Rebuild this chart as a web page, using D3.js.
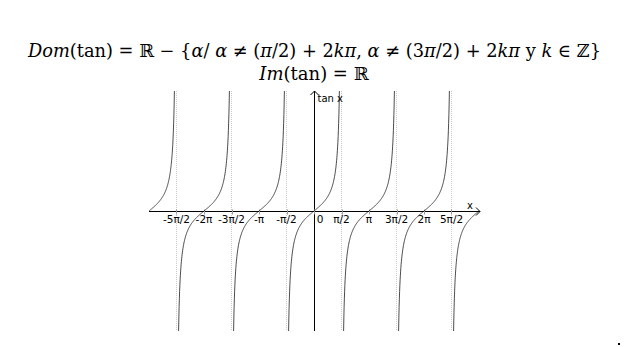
<!DOCTYPE html>
<html>
<head>
<meta charset="utf-8">
<script src="https://cdn.jsdelivr.net/npm/d3@7"></script>
<style>
  body { margin: 0; background: #fff; }
  svg { display: block; }
</style>
</head>
<body>
<div id="chart"></div>
<script>
const PI = Math.PI;

// tick positions (multiples of pi/2) and their labels
const tickValues = [-5, -4, -3, -2, -1, 0, 1, 2, 3, 4, 5].map(k => k * PI / 2);
const tickLabels = ["-5π/2", "-2π", "-3π/2", "-π", "-π/2", "0", "π/2", "π", "3π/2", "2π", "5π/2"];
// vertical asymptotes drawn as dotted lines
const asymptotes = [-5, -3, -1, 1, 3, 5].map(k => k * PI / 2);
// branch centres (zeros of tan)
const zeros = [-3, -2, -1, 0, 1, 2, 3].map(k => k * PI);

const xDomain = [-3 * PI, 3 * PI];
const yDomain = [-8.3, 8.3];

const width = 624, height = 347;

const svg = d3.select("#chart").append("svg")
    .attr("width", width)
    .attr("height", height);

const x = d3.scaleLinear().domain(xDomain).range([149, 479]);
const y = d3.scaleLinear().domain(yDomain).range([331, 91]);

// title
const title = svg.append("g")
    .attr("font-family", "'DejaVu Serif', serif")
    .attr("font-size", 18)
    .attr("fill", "#000");

const line1 = [
    ["Dom", true], ["(tan) = ℝ − {", false], ["α", true], ["/ ", false], ["α", true],
    [" ≠ (", false], ["π", true], ["/2) + 2", false], ["kπ", true], [", ", false], ["α", true],
    [" ≠ (3", false], ["π", true], ["/2) + 2", false], ["kπ", true], [" y ", false], ["k", true],
    [" ∈ ℤ}", false]
];
const t1 = title.append("text")
    .attr("x", 314.5).attr("y", 57)
    .attr("text-anchor", "middle")
    .attr("textLength", 573)
    .attr("lengthAdjust", "spacingAndGlyphs");
line1.forEach(([s, it]) => t1.append("tspan").attr("font-style", it ? "italic" : "normal").text(s));

const t2 = title.append("text")
    .attr("x", 314).attr("y", 80)
    .attr("text-anchor", "middle");
[["Im", true], ["(tan) = ℝ", false]].forEach(([s, it]) =>
    t2.append("tspan").attr("font-style", it ? "italic" : "normal").text(s));

// asymptotes
svg.append("g")
    .selectAll("line")
    .data(asymptotes)
    .enter().append("line")
    .attr("x1", d => x(d)).attr("x2", d => x(d))
    .attr("y1", y(yDomain[1])).attr("y2", y(yDomain[0]))
    .attr("stroke", "#c8c8c8")
    .attr("stroke-width", 1)
    .attr("stroke-dasharray", "1,1");

// axes
const axes = svg.append("g").attr("stroke", "#000").attr("stroke-width", 1).attr("fill", "none");
const x0 = Math.round(x(0)) + 0.5, y0 = Math.round(y(0)) + 0.5;
axes.append("line").attr("x1", x(xDomain[0])).attr("x2", x(xDomain[1]) + 1).attr("y1", y0).attr("y2", y0);
axes.append("path").attr("d", `M${x(xDomain[1]) - 3},${y0 - 4}L${x(xDomain[1]) + 1},${y0}L${x(xDomain[1]) - 3},${y0 + 4}`);
axes.append("line").attr("x1", x0).attr("x2", x0).attr("y1", y(yDomain[0])).attr("y2", y(yDomain[1]));
axes.append("path").attr("d", `M${x0 - 4},${y(yDomain[1]) + 4}L${x0},${y(yDomain[1])}L${x0 + 4},${y(yDomain[1]) + 4}`);

// tick marks
svg.append("g")
    .selectAll("line")
    .data(tickValues)
    .enter().append("line")
    .attr("x1", d => Math.round(x(d)) + 0.5).attr("x2", d => Math.round(x(d)) + 0.5)
    .attr("y1", y0 - 2).attr("y2", y0 + 3)
    .attr("stroke", "#999");

// tick labels
svg.append("g")
    .attr("font-family", "'DejaVu Sans', sans-serif")
    .attr("font-size", 10.5)
    .selectAll("text")
    .data(tickValues)
    .enter().append("text")
    .attr("x", (d, i) => x(d) + (i === 5 ? 6 : 0))
    .attr("y", y0 + 11)
    .attr("text-anchor", "middle")
    .text((d, i) => tickLabels[i]);

// axis names
svg.append("text")
    .attr("font-family", "'DejaVu Sans', sans-serif")
    .attr("font-size", 10)
    .attr("x", x0 + 3).attr("y", y(yDomain[1]) + 11)
    .text("tan x");
svg.append("text")
    .attr("font-family", "'DejaVu Sans', sans-serif")
    .attr("font-size", 10)
    .attr("x", x(xDomain[1]) - 12).attr("y", y0 - 3)
    .text("x");

// tan branches, clipped to the y domain
const lim = Math.atan(yDomain[1]);
const line = d3.line().x(d => x(d[0])).y(d => y(d[1]));
const branches = zeros.map(c => {
    const a = Math.max(c - lim, xDomain[0]), b = Math.min(c + lim, xDomain[1]);
    return d3.range(0, 201).map(i => {
        const t = a + (b - a) * i / 200;
        return [t, Math.tan(t)];
    });
});
svg.append("g")
    .selectAll("path")
    .data(branches)
    .enter().append("path")
    .attr("d", line)
    .attr("fill", "none")
    .attr("stroke", "#000")
    .attr("stroke-width", 0.7);

// small mark at the bottom right corner
svg.append("rect").attr("x", 618).attr("y", 343).attr("width", 2).attr("height", 2).attr("fill", "#000");
</script>
</body>
</html>
